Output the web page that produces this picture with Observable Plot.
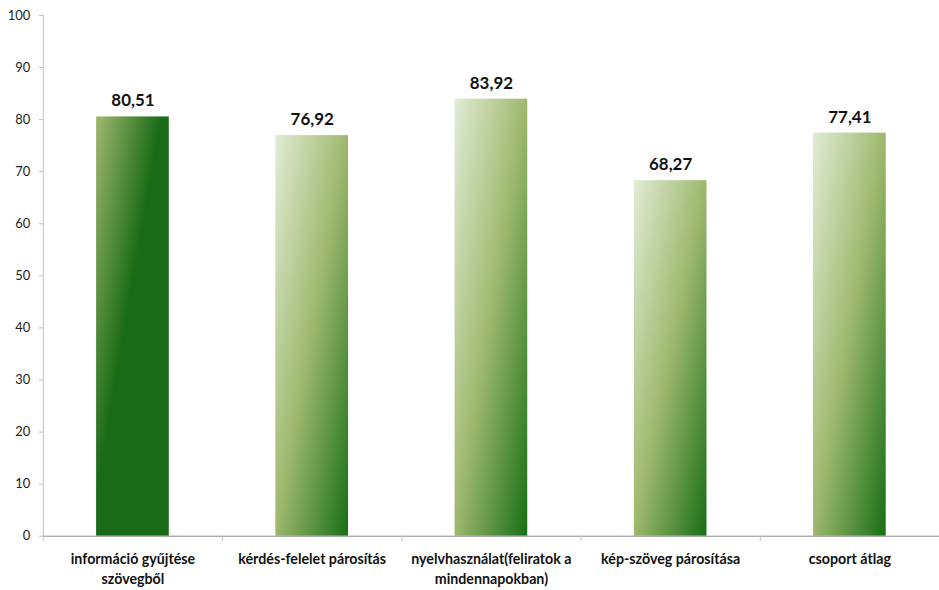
<!DOCTYPE html>
<html>
<head>
<meta charset="utf-8">
<script src="https://cdn.jsdelivr.net/npm/d3@7"></script>
<script src="https://cdn.jsdelivr.net/npm/@observablehq/plot@0.6"></script>
<style>
  html, body { margin: 0; padding: 0; background: #fff; overflow: hidden; }
  #chart svg { display: block; }
</style>
</head>
<body>
<div id="chart"></div>
<script>
const categories = [
  "információ gyűjtése szövegből",
  "kérdés-felelet párosítás",
  "nyelvhasználat(feliratok a mindennapokban)",
  "kép-szöveg párosítása",
  "csoport átlag"
];
const tickLabels = [
  "információ gyűjtése\nszövegből",
  "kérdés-felelet párosítás",
  "nyelvhasználat(feliratok a\nmindennapokban)",
  "kép-szöveg párosítása",
  "csoport átlag"
];
const values = [80.51, 76.92, 83.92, 68.27, 77.41];
const yTicks = [0, 10, 20, 30, 40, 50, 60, 70, 80, 90, 100];

const data = categories.map((c, i) => ({cat: c, label: tickLabels[i], value: values[i], i}));
const fmt = v => v.toFixed(2).replace(".", ",");
const font = "Lato, 'Open Sans', sans-serif";

const chart = Plot.plot({
  width: 943,
  height: 590,
  marginLeft: 43,
  marginRight: 0,
  marginTop: 15,
  marginBottom: 52,
  style: {fontFamily: font, color: "#000", background: "#fff", overflow: "visible"},
  x: {domain: categories, padding: 0, axis: null},
  y: {domain: [0, 100]},
  marks: [
    Plot.axisY({ticks: yTicks, tickSize: 4, tickPadding: 9, fontSize: 13, stroke: "#bdbdbd", color: "#222", label: null}),
    Plot.barY(data.filter(d => d.i === 0), {x: "cat", y: "value", fill: "url(#gDark)", insetLeft: 53.5, insetRight: 53.5}),
    Plot.barY(data.filter(d => d.i !== 0), {x: "cat", y: "value", fill: "url(#gLight)", insetLeft: 53.5, insetRight: 53.5}),
    Plot.frame({anchor: "left", stroke: "#c4c4c4"}),
    Plot.ruleY([0], {stroke: "#8c8c8c"}),
    Plot.ruleX(categories, {x: d => d, dx: 90, y1: 0, y2: 0, insetBottom: -5, stroke: "#bdbdbd"}),
    Plot.ruleX([categories[0]], {x: d => d, dx: -90, y1: 0, y2: 0, insetBottom: -5, stroke: "#c4c4c4"}),
    Plot.text(data, {x: "cat", y: "value", text: d => fmt(d.value), dy: -16, fontSize: 17, fontWeight: "bold", fill: "#111"}),
    Plot.text(data, {x: "cat", y: 0, text: "label", dy: 13, lineAnchor: "top", lineHeight: 1.43, fontSize: 14.3, fontWeight: "bold", fill: "#111"})
  ]
});

const defs = `<defs>
  <linearGradient id="gLight" x1="0" y1="0" x2="1" y2="1">
    <stop offset="0" stop-color="#e1ecd5"/>
    <stop offset="0.5" stop-color="#9db86d"/>
    <stop offset="1" stop-color="#176e15"/>
  </linearGradient>
  <linearGradient id="gDark" x1="0" y1="0" x2="1" y2="1">
    <stop offset="0" stop-color="#a0b86f"/>
    <stop offset="0.45" stop-color="#196b17"/>
    <stop offset="1" stop-color="#196b17"/>
  </linearGradient>
</defs>`;
chart.insertAdjacentHTML("afterbegin", defs);
document.getElementById("chart").appendChild(chart);
</script>
</body>
</html>
